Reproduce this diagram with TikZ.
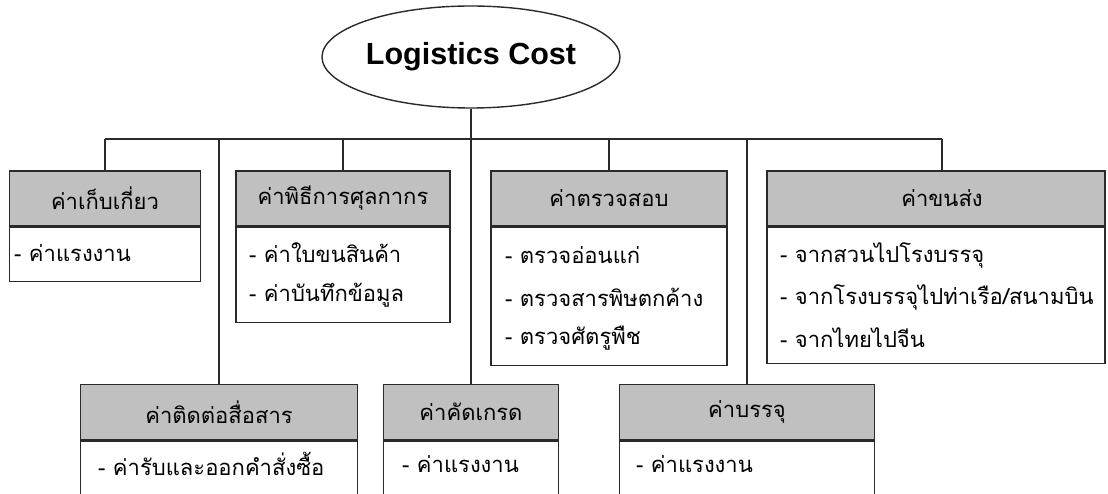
\documentclass[tikz,border=0pt]{standalone}
\usepackage{fontspec}
\setmainfont{Liberation Sans}
\newfontfamily\thai[Script=Thai]{Loma}
\usetikzlibrary{shapes.geometric}
\definecolor{headgray}{HTML}{C0C0C0}
\definecolor{linegray}{HTML}{2A2A2A}
\tikzset{
  root/.style={ellipse, draw=linegray, line width=1.4pt, minimum width=298pt, minimum height=102pt,
    inner sep=0pt, font=\fontsize{30.5}{30.5}\selectfont\bfseries},
  head/.style={rectangle, draw=linegray, fill=headgray, line width=1.4pt, minimum height=55pt,
    inner sep=0pt, font=\thai\fontsize{22}{22}\selectfont},
  body/.style={rectangle, draw=linegray, fill=white, line width=1.4pt, inner sep=0pt, anchor=north},
  item/.style={anchor=west, inner sep=0pt, font=\thai\fontsize{22}{22}\selectfont},
  wire/.style={draw=linegray, line width=1.4pt}
}
\begin{document}
\begin{tikzpicture}[x=1pt, y=-1pt]
\useasboundingbox (0,0) rectangle (1108,494);

\coordinate (busL) at (105,139);
\coordinate (busR) at (942,139);

% root
\node[root] (root) at (471,57) {Logistics Cost};

% upper row of cost groups
\node[head, minimum width=191pt] (h1) at (105,198.5) {ค่าเก็บเกี่ยว};
\node[body, minimum width=191pt, minimum height=54pt] (b1) at (h1.south) {};
\node[item] (t11) at (14,253) {- ค่าแรงงาน};

\node[head, minimum width=214pt] (h2) at (343,198.5) {ค่าพิธีการศุลกากร};
\node[body, minimum width=214pt, minimum height=95pt] (b2) at (h2.south) {};
\node[item] (t21) at (249,253) {- ค่าใบขนสินค้า};
\node[item] (t22) at (249,295) {- ค่าบันทึกข้อมูล};

\node[head, minimum width=236pt] (h3) at (609,198.5) {ค่าตรวจสอบ};
\node[body, minimum width=236pt, minimum height=138pt] (b3) at (h3.south) {};
\node[item] (t31) at (505,255) {- ตรวจอ่อนแก่};
\node[item] (t32) at (505,297) {- ตรวจสารพิษตกค้าง};
\node[item] (t33) at (505,338) {- ตรวจศัตรูพืช};

\node[head, minimum width=338pt] (h4) at (936,198.5) {\hspace*{12pt}ค่าขนส่ง};
\node[body, minimum width=338pt, minimum height=136pt] (b4) at (h4.south) {};
\node[item] (t41) at (780,255) {- จากสวนไปโรงบรรจุ};
\node[item] (t42) at (780,297) {- จากโรงบรรจุไปท่าเรือ/สนามบิน};
\node[item] (t43) at (780,338) {- จากไทยไปจีน};

% lower row of cost groups
\node[head, minimum width=277pt] (h5) at (219,412) {ค่าติดต่อสื่อสาร};
\node[body, minimum width=277pt, minimum height=70pt] (b5) at (h5.south) {};
\node[item] (t51) at (98,464) {- ค่ารับและออกคำสั่งซื้อ};

\node[head, minimum width=175pt] (h6) at (471,412) {ค่าคัดเกรด};
\node[body, minimum width=175pt, minimum height=70pt] (b6) at (h6.south) {};
\node[item] (t61) at (402,464) {- ค่าแรงงาน};

\node[head, minimum width=255pt] (h7) at (747,412) {ค่าบรรจุ};
\node[body, minimum width=255pt, minimum height=70pt] (b7) at (h7.south) {};
\node[item] (t71) at (636,464) {- ค่าแรงงาน};

% tree lines
\draw[wire] (root.south) -- (root.south |- busL);
\draw[wire] (busL) -- (busR);
\draw[wire] (h1.north) -- (h1.north |- busL);
\draw[wire] (h2.north) -- (h2.north |- busL);
\draw[wire] (h3.north) -- (h3.north |- busL);
\draw[wire] (busR) -- (busR |- h4.north);
\draw[wire] (h5.north) -- (h5.north |- busL);
\draw[wire] (h6.north) -- (h6.north |- busL);
\draw[wire] (h7.north) -- (h7.north |- busL);
\end{tikzpicture}
\end{document}
